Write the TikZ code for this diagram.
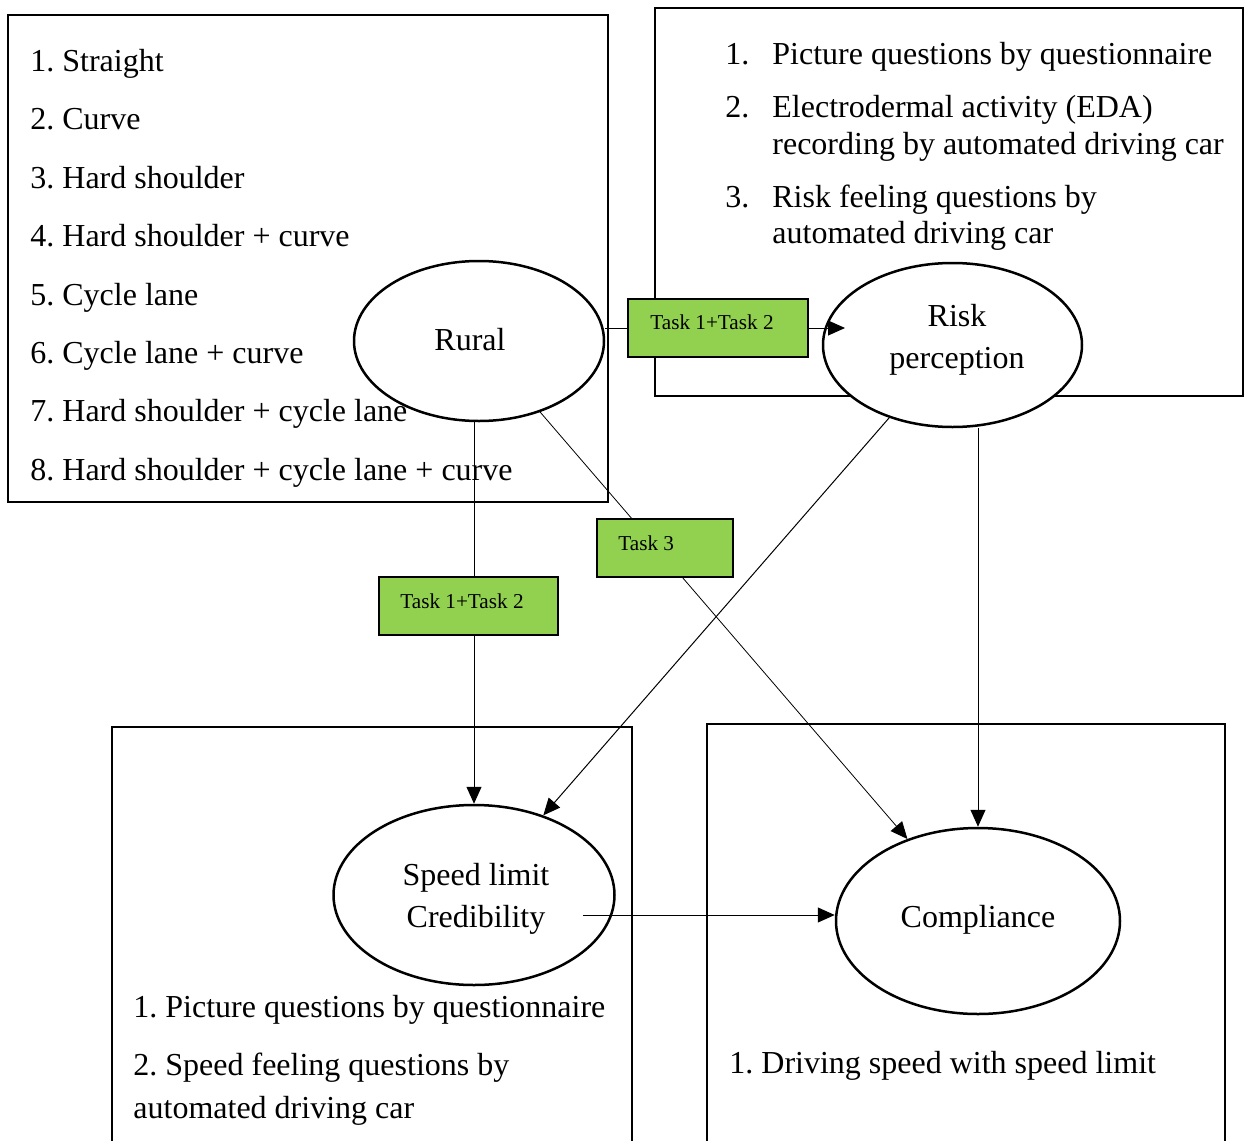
\documentclass[tikz,border=0pt]{standalone}
\usepackage{fontspec}
\setmainfont{Liberation Serif}
\usetikzlibrary{shapes.geometric,arrows.meta,calc}
\definecolor{taskgreen}{HTML}{92D050}
\frenchspacing
\begin{document}
\begin{tikzpicture}[x=0.5pt,y=-0.5pt,
  frame/.style={draw,line width=1pt},
  oval/.style={ellipse,draw,fill=white,line width=1.25pt,inner sep=0pt},
  txt/.style={anchor=base west,inner sep=0pt,font=\fontsize{16}{19}\selectfont},
  ctxt/.style={anchor=base,inner sep=0pt,font=\fontsize{16}{19}\selectfont},
  taskbox/.style={draw,fill=taskgreen,line width=1pt,inner sep=0pt,minimum height=29pt},
  tasktxt/.style={anchor=base west,inner sep=0pt,font=\fontsize{10.6}{12}\selectfont},
  conn/.style={line width=0.5pt},
  arr/.style={line width=0.5pt,-{Triangle[length=8.5pt,width=7.5pt]}},
]
\useasboundingbox (0,0) rectangle (1249,1141);
\clip (0,0) rectangle (1249,1141);

% frames
\draw[frame] (8,15) rectangle (608,502);
\draw[frame] (655,8) rectangle (1243,396);
\draw[frame] (112,727) rectangle (632,1170);
\draw[frame] (707,724) rectangle (1225,1170);

% ellipses
\node[oval,minimum width=125pt,minimum height=80pt] (rural) at (479,341) {};
\node[oval,minimum width=129.5pt,minimum height=82pt] (risk) at (952.5,345) {};
\node[oval,minimum width=140.5pt,minimum height=90pt] (speed) at (474,895) {};
\node[oval,minimum width=142pt,minimum height=93pt] (compl) at (978,921) {};

% ellipse texts
\node[ctxt] (ruraltxt) at (470,350) {Rural};
\node[ctxt] (risktxt1) at (957,326) {Risk};
\node[ctxt] (risktxt2) at (957,368) {perception};
\node[ctxt] (speedtxt1) at (476,885) {Speed limit};
\node[ctxt] (speedtxt2) at (476,927) {Credibility};
\node[ctxt] (compltxt) at (978,927) {Compliance};

% task boxes (positions)
\coordinate (t12apos) at (718,328);
\coordinate (t3pos) at (665,548);
\coordinate (t12bpos) at (468.5,606);

% connectors
\coordinate (rtip) at (845,328);
\coordinate (sc) at (583,915);
\draw[conn] (t12apos -| rural.east) -- (t12apos);
\draw[arr] (t12apos) -- (rtip);
\draw[arr] (rural.south -| speed.north) -- (speed.north);
\draw[arr,line width=0.4pt] (rural) -- (compl);
\draw[arr] (risk) -- (speed);
\draw[arr] (risk.south -| compl.north) -- (compl.north);
\draw[arr] (sc) -- (sc -| compl.west);

% task boxes
\node[taskbox,minimum width=90pt] (t12a) at (t12apos) {};
\node[tasktxt] (t12atxt) at (650,329) {Task 1+Task 2};
\node[taskbox,minimum width=68pt] (t3) at (t3pos) {};
\node[tasktxt] (t3txt) at (618,550) {Task 3};
\node[taskbox,minimum width=89.5pt] (t12b) at (t12bpos) {};
\node[tasktxt] (t12btxt) at (400,608) {Task 1+Task 2};

% left list
\node[txt] (l1) at (30,71) {1. Straight};
\node[txt] (l2) at (30,129) {2. Curve};
\node[txt] (l3) at (30,188) {3. Hard shoulder};
\node[txt] (l4) at (30,246) {4. Hard shoulder + curve};
\node[txt] (l5) at (30,305) {5. Cycle lane};
\node[txt] (l6) at (30,363) {6. Cycle lane + curve};
\node[txt] (l7) at (30,421) {7. Hard shoulder + cycle lane};
\node[txt] (l8) at (30,480) {8. Hard shoulder + cycle lane + curve};

% top right list
\node[txt] (r1n) at (725,64) {1.};
\node[txt] (r1) at (772,64) {Picture questions by questionnaire};
\node[txt] (r2n) at (725,117) {2.};
\node[txt] (r2a) at (772,117) {Electrodermal activity (EDA)};
\node[txt] (r2b) at (772,154) {recording by automated driving car};
\node[txt] (r3n) at (725,207) {3.};
\node[txt] (r3a) at (772,207) {Risk feeling questions by};
\node[txt] (r3b) at (772,243) {automated driving car};

% bottom left list
\node[txt] (b1) at (133,1017) {1. Picture questions by questionnaire};
\node[txt] (b2a) at (133,1075) {2. Speed feeling questions by};
\node[txt] (b2b) at (133,1118) {automated driving car};

% bottom right list
\node[txt] (c1) at (729,1073) {1. Driving speed with speed limit};
\end{tikzpicture}
\end{document}
